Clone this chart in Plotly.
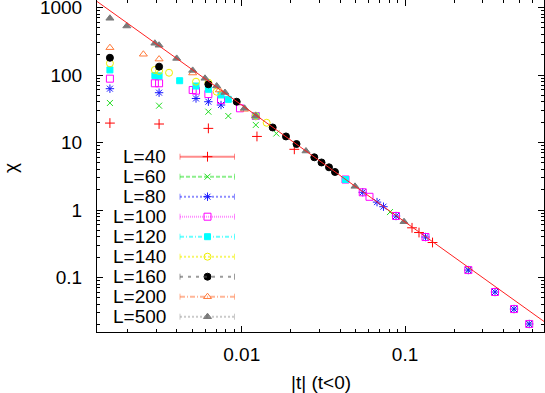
import numpy as np
import plotly.graph_objects as go

# ---------------- data ----------------
labels = ["L=40", "L=60", "L=80", "L=100", "L=120", "L=140", "L=160", "L=200", "L=500"]

t_L40 = [0.00156, 0.00312, 0.00625, 0.0124, 0.0210, 0.1104, 0.1218, 0.1474]
chi_L40 = [19.4, 18.8, 16.2, 12.3, 7.93, 0.545, 0.464, 0.330]

t_L60 = [0.00156, 0.00312, 0.00625, 0.00828, 0.0122, 0.0163, 0.0809, 0.2441, 0.3556, 0.465, 0.5761]
chi_L60 = [38.5, 35.1, 28.6, 24.7, 18.2, 13.6, 0.933, 0.129, 0.061, 0.0341, 0.0205]

t_L80 = [0.00156, 0.00312, 0.00525, 0.00625, 0.00747, 0.0122, 0.0551, 0.0674, 0.0738, 0.0881,
         0.1335, 0.2441, 0.3556, 0.465, 0.5761]
chi_L80 = [62.7, 54.7, 44.9, 40.2, 35.9, 24.7, 1.83, 1.31, 1.12, 0.815,
           0.398, 0.129, 0.061, 0.0341, 0.0205]

t_L100 = [0.00156, 0.00294, 0.00312, 0.00501, 0.00525, 0.00625, 0.00747, 0.00976, 0.0122, 0.0432,
          0.0551, 0.0606, 0.0881, 0.1335, 0.2441, 0.3556, 0.465, 0.5761]
chi_L100 = [88.2, 75.4, 75.4, 59.9, 58.6, 52.2, 42.7, 32.1, 24.7, 2.83,
            1.83, 1.57, 0.815, 0.398, 0.129, 0.061, 0.0341, 0.0205]

t_L120 = [0.00156, 0.00294, 0.00312, 0.00417, 0.00525, 0.00625, 0.00747, 0.00828, 0.0122, 0.0432]
chi_L120 = [119, 98, 97, 82.3, 68.7, 61.4, 50.6, 43.6, 24.7, 2.83]

t_L140 = [0.00156, 0.00294, 0.00312, 0.00359, 0.00525, 0.00625, 0.00703, 0.0122, 0.01422]
chi_L140 = [149, 119, 115, 108, 79.6, 77.0, 56.6, 24.7, 19.6]

t_L160 = [0.00156, 0.00312, 0.00625, 0.00932, 0.01548, 0.01867, 0.02166, 0.02783, 0.03082, 0.03424, 0.03725]
chi_L160 = [180, 133, 72.8, 40.2, 16.7, 12.3, 9.5, 6.04, 5.06, 4.29, 3.66]

t_L200 = [0.00156, 0.0025, 0.00312, 0.00501, 0.0073, 0.0104, 0.0122]
chi_L200 = [254, 203, 172, 107, 59.9, 31.0, 24.7]

t_L500 = [0.00156, 0.00198, 0.00294, 0.00312, 0.0040, 0.00501, 0.00596, 0.00703, 0.0079, 0.0104,
          0.0122, 0.02475, 0.0494, 0.0986]
chi_L500 = [692, 532, 295, 276, 176, 117, 89.3, 68.7, 55.0, 32.1,
            24.7, 7.48, 2.24, 0.671]

# power-law fit chi = A |t|^(-gamma)
FIT_A = 0.01233
FIT_GAMMA = 1.732

x_tickvals = [0.01, 0.1]
x_ticktext = ["0.01", "0.1"]
y_tickvals = [0.1, 1, 10, 100, 1000]
y_ticktext = ["0.1", "1", "10", "100", "1000"]

series_t = [t_L40, t_L60, t_L80, t_L100, t_L120, t_L140, t_L160, t_L200, t_L500]
series_chi = [chi_L40, chi_L60, chi_L80, chi_L100, chi_L120, chi_L140, chi_L160, chi_L200, chi_L500]

# ---------------- styles ----------------
colors = ["#ff0000", "#22dd22", "#1a1aff", "#ff00ff", "#00ffff", "#eeee00", "#000000", "#ff7a3a", "#7a7a7a"]
key_colors = ["rgba(255,0,0,0.45)", "rgba(0,220,0,0.45)", "rgba(0,0,255,0.45)", "rgba(255,0,255,0.45)",
              "rgba(0,255,255,0.6)", "rgba(240,240,0,0.6)", "rgba(90,90,90,0.6)", "rgba(255,110,50,0.5)",
              "rgba(150,150,150,0.5)"]
symbols = ["cross-thin-open", "x-thin-open", "asterisk-open", "square-open", "square",
           "circle-open", "circle", "triangle-up-open", "triangle-up"]
sizes = [7, 6, 7, 7, 6, 7, 7, 7, 7]
dashes = ["solid", "4px,2px", "2px,2px", "1px,1px", "4px,2px,1px,2px", "2px,2px", "3px,5px",
          "5px,2px,1px,2px", "2px,2px"]

FONT = "Liberation Sans, Arial, Helvetica, sans-serif"
W, H = 545, 393
ML, MR, MT, MB = 97, 1, 0, 61
PW, PH = W - ML - MR, H - MT - MB

XR = [-2.886, -0.149]
YR = [-1.807, 3.111]

x_minor = [m * 10.0 ** e for e in range(-3, 0) for m in range(2, 10)]
y_minor = [m * 10.0 ** e for e in range(-2, 4) for m in range(2, 10)]

fig = go.Figure()

for t, c, col, sym, sz in zip(series_t, series_chi, colors, symbols, sizes):
    fig.add_trace(go.Scatter(
        x=t, y=c, mode="markers", showlegend=False, hoverinfo="skip",
        marker=dict(symbol=sym, size=sz, color=col, line=dict(color=col, width=1)),
    ))

# fit line
xf = np.logspace(XR[0], XR[1], 50)
fig.add_trace(go.Scatter(x=xf, y=FIT_A * xf ** (-FIT_GAMMA), mode="lines", showlegend=False,
                         hoverinfo="skip", line=dict(color="#ff2020", width=1)))

# ---------------- custom key (gnuplot style) ----------------
row0_px, row_step_px = 156.7, 20.0
x_text = (167.5 - ML) / PW
x_l0 = (180 - ML) / PW
x_l1 = (234.5 - ML) / PW
x_mk = (207.5 - ML) / PW
cap = 3.0 / PH
shapes = []
annotations = []
for i, lab in enumerate(labels):
    yy = 1 - (row0_px + i * row_step_px - MT) / PH
    annotations.append(dict(x=x_text, y=yy, xref="paper", yref="paper", text=lab, showarrow=False,
                            xanchor="right", yanchor="middle", font=dict(size=19, family=FONT, color="black")))
    shapes.append(dict(type="line", xref="paper", yref="paper", x0=x_l0, x1=x_l1, y0=yy, y1=yy,
                       line=dict(color=key_colors[i], width=2, dash=dashes[i])))
    for xc in (x_l0, x_l1):
        shapes.append(dict(type="line", xref="paper", yref="paper", x0=xc, x1=xc, y0=yy - cap, y1=yy + cap,
                           line=dict(color=key_colors[i], width=1)))
    fig.add_trace(go.Scatter(x=[x_mk], y=[yy], xaxis="x2", yaxis="y2", mode="markers", showlegend=False,
                             hoverinfo="skip",
                             marker=dict(symbol=symbols[i], size=sizes[i], color=colors[i],
                                         line=dict(color=colors[i], width=1))))

annotations.append(dict(x=0.5, y=1 - (383 - MT) / PH, xref="paper", yref="paper", text="|t| (t<0)",
                        showarrow=False, xanchor="center", yanchor="middle",
                        font=dict(size=19, family=FONT, color="black")))
annotations.append(dict(x=(10 - ML) / PW, y=1 - (168 - MT) / PH, xref="paper", yref="paper", text="χ",
                        showarrow=False, xanchor="center", yanchor="middle", textangle=-90,
                        font=dict(size=19, family=FONT, color="black")))

axis_common = dict(showline=True, linecolor="black", linewidth=1, mirror="ticks", ticks="inside",
                   ticklen=6, tickcolor="black", tickwidth=1, showgrid=False, zeroline=False,
                   automargin=False, ticklabeloverflow="allow",
                   tickfont=dict(size=19, family=FONT, color="black"))

fig.update_layout(
    width=W, height=H, margin=dict(l=ML, r=MR, t=MT, b=MB, autoexpand=False),
    paper_bgcolor="white", plot_bgcolor="white",
    xaxis=dict(type="log", range=XR, tickmode="array", tickvals=x_tickvals, ticktext=x_ticktext,
               ticklabelstandoff=5,
               minor=dict(ticks="inside", ticklen=3, tickcolor="black", tickwidth=1, showgrid=False,
                          tickmode="array", tickvals=x_minor),
               **axis_common),
    yaxis=dict(type="log", range=YR, tickmode="array", tickvals=y_tickvals, ticktext=y_ticktext,
               ticklabelstandoff=10,
               minor=dict(ticks="inside", ticklen=3, tickcolor="black", tickwidth=1, showgrid=False,
                          tickmode="array", tickvals=y_minor),
               **axis_common),
    xaxis2=dict(overlaying="x", range=[0, 1], visible=False, fixedrange=True),
    yaxis2=dict(overlaying="y", range=[0, 1], visible=False, fixedrange=True),
    shapes=shapes, annotations=annotations, showlegend=False,
)

fig.write_html("out.html", config={"displayModeBar": False},
               post_script="document.body.style.margin='0px';")
